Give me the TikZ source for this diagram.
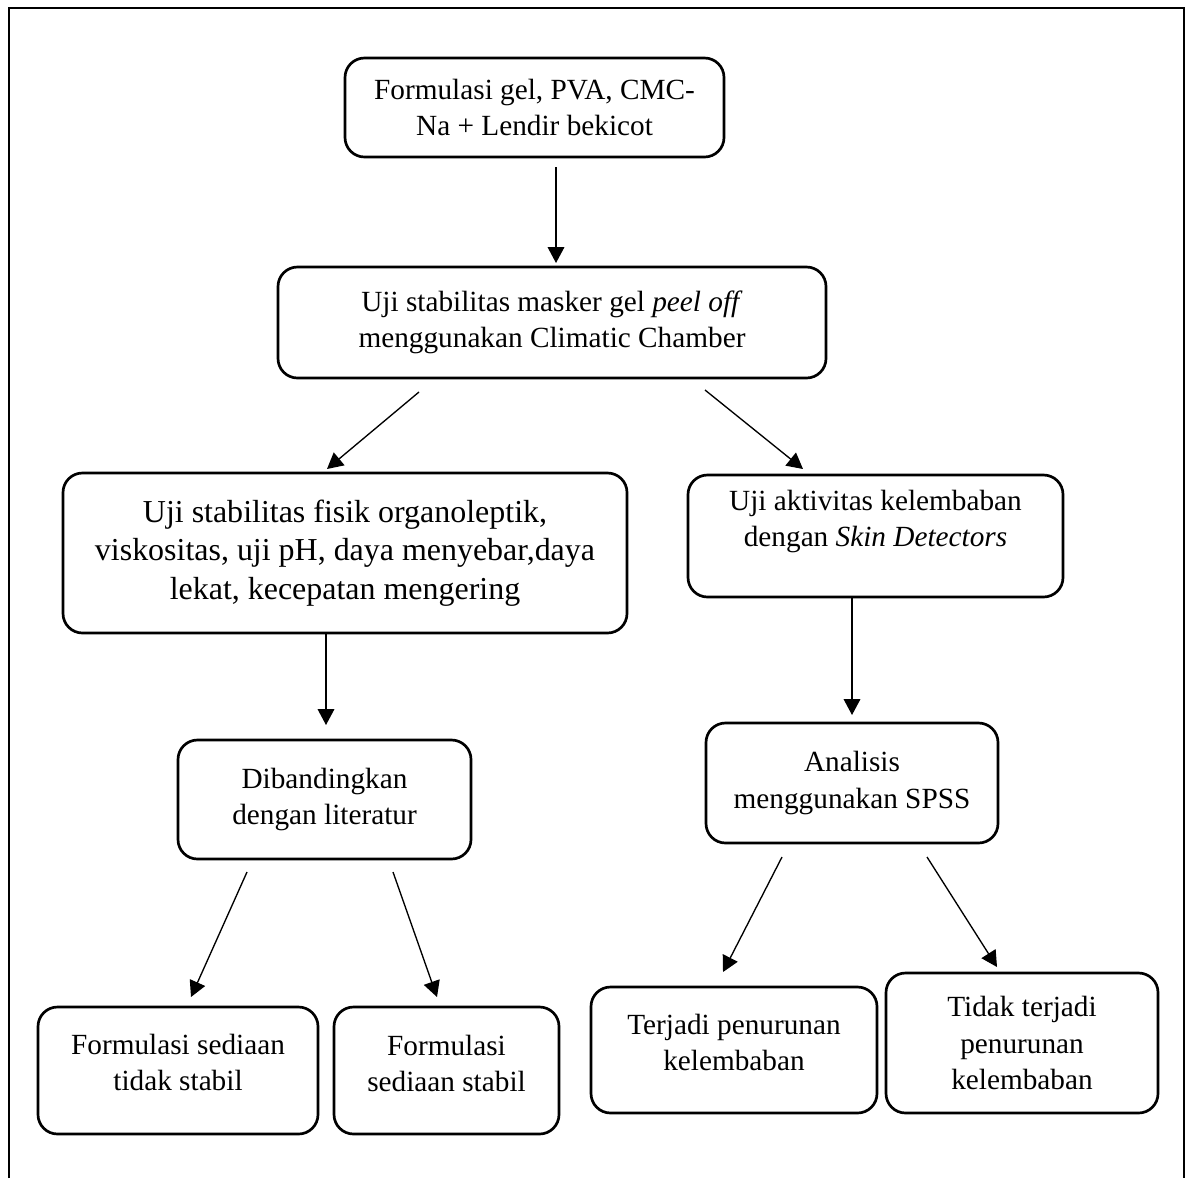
\documentclass[tikz,border=0pt]{standalone}
\usepackage{fontspec}
\setmainfont{Liberation Serif}
\usetikzlibrary{arrows.meta}
\tikzset{
  box/.style={draw, line width=1.1pt, rounded corners=8pt, align=center, inner sep=2pt,
    font=\fontsize{12}{14.8}\selectfont},
  bigbox/.style={box, font=\fontsize{13.1}{15.8}\selectfont},
  conn/.style={line width=0.55pt, -{Triangle[length=6.5pt,width=6.8pt]}},
  frameline/.style={line width=0.95pt}
}
\newcommand\pbox[7][box]{%
  \node[#1, minimum width={(#5-#3)*0.41pt}, minimum height={(#6-#4)*0.41pt}]
    (#2) at ({(#3+#5)/2},{(#4+#6)/2}) {#7};}
\begin{document}
\begin{tikzpicture}[x=0.41pt,y=-0.41pt]
\useasboundingbox (0,0) rectangle (1188,1178);
% outer frame (open at bottom)
\coordinate (f1) at (9,1178);
\coordinate (f2) at (9,8);
\coordinate (f3) at (1184,8);
\coordinate (f4) at (1184,1178);
\draw[frameline] (f1) -- (f2) -- (f3) -- (f4);

\pbox{b1}{345}{58}{724}{157}{Formulasi gel, PVA, CMC-\\Na + Lendir bekicot}
\pbox{b2}{278}{267}{826}{378}{Uji stabilitas masker gel \textit{peel off}\\menggunakan Climatic Chamber}
\pbox[bigbox]{b3}{63}{473}{627}{633}{Uji stabilitas fisik organoleptik,\\viskositas, uji pH, daya menyebar,daya\\lekat, kecepatan mengering}
\pbox[box,text depth=14.5pt]{b4}{688}{475}{1063}{597}{Uji aktivitas kelembaban\\dengan \textit{Skin Detectors}}
\pbox{b5}{178}{740}{471}{859}{Dibandingkan\\dengan literatur}
\pbox{b6}{706}{723}{998}{843}{Analisis\\menggunakan SPSS}
\pbox[box,text depth=7pt]{b7}{38}{1007}{318}{1134}{Formulasi sediaan\\tidak stabil}
\pbox[box,text depth=6pt]{b8}{334}{1007}{559}{1134}{Formulasi\\sediaan stabil}
\pbox[box,text depth=6.5pt]{b9}{591}{987}{877}{1113}{Terjadi penurunan\\kelembaban}
\pbox{b10}{886}{973}{1158}{1113}{Tidak terjadi\\penurunan\\kelembaban}

% connector end points
\coordinate (a1s) at (556,167);  \coordinate (a1e) at (556,263);
\coordinate (a2s) at (419,392);  \coordinate (a2e) at (327,469);
\coordinate (a3s) at (705,390);  \coordinate (a3e) at (803,469);
\coordinate (a4s) at (326,633);  \coordinate (a4e) at (326,725);
\coordinate (a5s) at (852,598);  \coordinate (a5e) at (852,715);
\coordinate (a6s) at (247,872);  \coordinate (a6e) at (191,997);
\coordinate (a7s) at (393,872);  \coordinate (a7e) at (437,997);
\coordinate (a8s) at (782,857);  \coordinate (a8e) at (723,972);
\coordinate (a9s) at (927,857);  \coordinate (a9e) at (997,967);

\draw[conn] (a1s) -- (a1e);
\draw[conn] (a2s) -- (a2e);
\draw[conn] (a3s) -- (a3e);
\draw[conn] (a4s) -- (a4e);
\draw[conn] (a5s) -- (a5e);
\draw[conn] (a6s) -- (a6e);
\draw[conn] (a7s) -- (a7e);
\draw[conn] (a8s) -- (a8e);
\draw[conn] (a9s) -- (a9e);
\end{tikzpicture}
\end{document}
